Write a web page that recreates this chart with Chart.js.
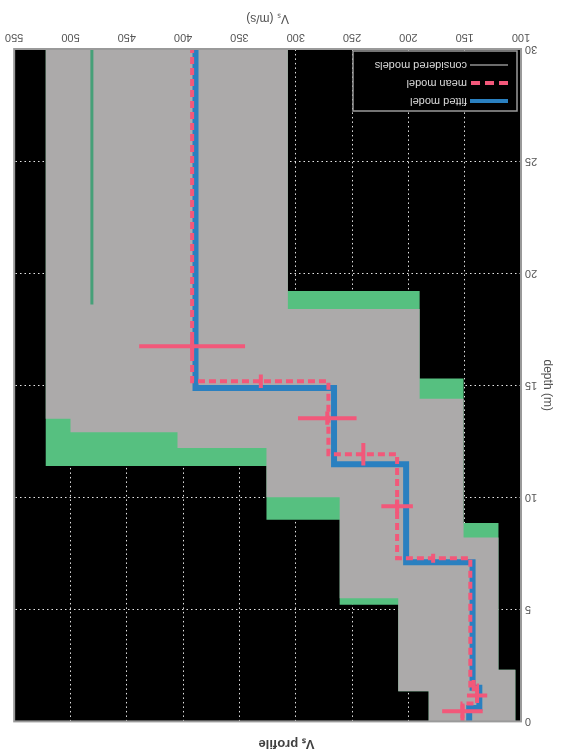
<!DOCTYPE html>
<html>
<head>
    <title>Vs profile</title>
    <style>
        body {
            margin: 0;
            padding: 0;
            background-color: #ffffff;
        }

        #wrap {
            width: 563px;
            height: 754px;
            transform: rotate(180deg);
        }

        canvas {
            display: block;
        }
    </style>
</head>
<body>
    <div id="wrap">
        <canvas id="chart" width="563" height="754"></canvas>
    </div>

    <script src="https://cdn.jsdelivr.net/npm/chart.js"></script>
    <script>
        // axis ticks
        var vsTicks = [100, 150, 200, 250, 300, 350, 400, 450, 500, 550];
        var depthTicks = [0, 5, 10, 15, 20, 25, 30];

        // fitted model: layer boundaries (m) and Vs of each layer (m/s)
        var fitDepth = [0, 0.6, 1.5, 7.1, 11.47, 14.87, 30];
        var fitVs = [146, 137, 143, 202, 266, 389];

        // mean model
        var meanDepth = [0, 0.8, 1.6, 7.28, 11.92, 15.18, 30];
        var meanVs = [152, 139, 145, 210, 271, 392];

        // Vs standard deviation crosses
        var stdDepth = [0.45, 1.16, 9.6, 13.53, 16.74];
        var stdVs = [152, 139, 210, 272, 392];
        var stdVsErr = [18, 9, 14, 26, 47];
        var stdDepthErr = [0.3, 0.3, 0.3, 0.3, 0.35];

        // interface depth error bars
        var ifVs = [142, 178, 240, 331];
        var ifDepth = [1.6, 7.28, 11.92, 15.18];
        var ifErr = [0.25, 0.2, 0.5, 0.3];

        // envelope of considered models (outer, green edge)
        var envLowDepth = [0, 2.3, 8.85, 15.3, 19.2, 30];
        var envLowVs = [105, 120, 151, 190, 307];
        var envHighDepth = [0, 1.35, 5.2, 9.0, 11.4, 30];
        var envHighVs = [182, 209, 261, 326, 522];

        // grey core of considered models
        var coreLowDepth = [0, 2.3, 8.2, 14.4, 18.4, 30];
        var coreLowVs = [105, 120, 151, 190, 307];
        var coreHighDepth = [0, 1.35, 5.5, 10.0, 12.2, 12.9, 13.5, 30];
        var coreHighVs = [182, 209, 261, 326, 405, 500, 522];

        // one green considered model visible in the half space
        var greenDepth = [18.6, 30];
        var greenVs = [481, 481];

        var BLUE = '#2a80c0';
        var RED = '#f2587a';
        var GREY = 'rgb(172,170,170)';
        var GREEN = 'rgb(86,192,128)';

        function steps(depths, vs) {
            var pts = [];
            for (var i = 0; i < vs.length; i++) {
                pts.push({x: vs[i], y: depths[i]});
                pts.push({x: vs[i], y: depths[i + 1]});
            }
            return pts;
        }

        function envelope(loD, loV, hiD, hiV) {
            return steps(loD, loV).concat(steps(hiD, hiV).reverse());
        }

        var gap = {x: null, y: null};
        var barPts = [];
        for (var i = 0; i < stdDepth.length; i++) {
            barPts.push({x: stdVs[i] - stdVsErr[i], y: stdDepth[i]}, {x: stdVs[i] + stdVsErr[i], y: stdDepth[i]}, gap);
            barPts.push({x: stdVs[i], y: stdDepth[i] - stdDepthErr[i]}, {x: stdVs[i], y: stdDepth[i] + stdDepthErr[i]}, gap);
        }
        for (var j = 0; j < ifDepth.length; j++) {
            barPts.push({x: ifVs[j], y: ifDepth[j] - ifErr[j]}, {x: ifVs[j], y: ifDepth[j] + ifErr[j]}, gap);
        }

        var greenPts = greenDepth.map(function(d, k) { return {x: greenVs[k], y: d}; });

        // black plot area + frame + legend box
        var plotBg = {
            id: 'plotBg',
            beforeDraw: function(chart) {
                var a = chart.chartArea, ctx = chart.ctx;
                ctx.save();
                ctx.fillStyle = '#000000';
                ctx.fillRect(a.left, a.top, a.right - a.left, a.bottom - a.top);
                ctx.restore();
            },
            afterDraw: function(chart) {
                var a = chart.chartArea, ctx = chart.ctx;
                ctx.save();
                ctx.strokeStyle = '#9a9a9a';
                ctx.lineWidth = 2;
                ctx.strokeRect(a.left, a.top, a.right - a.left, a.bottom - a.top);

                // legend
                var x0 = a.left + 4, y0 = a.bottom - 62, w = 164, h = 60;
                ctx.fillStyle = '#000000';
                ctx.fillRect(x0, y0, w, h);
                ctx.lineWidth = 1.5;
                ctx.strokeStyle = '#9a9a9a';
                ctx.strokeRect(x0, y0, w, h);

                var items = [
                    {text: 'fitted model', color: BLUE, width: 4, dash: []},
                    {text: 'mean model', color: RED, width: 4, dash: [9, 5]},
                    {text: 'considered models', color: '#d8d8d8', width: 1, dash: []}
                ];
                ctx.font = '11px "Liberation Sans", Arial, sans-serif';
                ctx.textBaseline = 'middle';
                ctx.textAlign = 'left';
                items.forEach(function(it, k) {
                    var yy = y0 + 10 + k * 18;
                    ctx.beginPath();
                    ctx.setLineDash(it.dash);
                    ctx.strokeStyle = it.color;
                    ctx.lineWidth = it.width;
                    ctx.moveTo(x0 + 9, yy);
                    ctx.lineTo(x0 + 47, yy);
                    ctx.stroke();
                    ctx.setLineDash([]);
                    ctx.fillStyle = '#dcdcdc';
                    ctx.fillText(it.text, x0 + 50, yy);
                });
                ctx.restore();
            }
        };

        var ctx = document.getElementById('chart').getContext('2d');
        var chart = new Chart(ctx, {
            type: 'line',
            data: {
                datasets: [{
                    label: 'error bars',
                    data: barPts,
                    borderColor: RED,
                    borderWidth: 4,
                    pointRadius: 0,
                    order: 0
                }, {
                    label: 'mean model',
                    data: steps(meanDepth, meanVs),
                    borderColor: RED,
                    borderWidth: 4,
                    borderDash: [7, 4],
                    pointRadius: 0,
                    order: 1
                }, {
                    label: 'fitted model',
                    data: steps(fitDepth, fitVs),
                    borderColor: BLUE,
                    borderWidth: 6,
                    pointRadius: 0,
                    order: 2
                }, {
                    label: 'considered model',
                    data: greenPts,
                    borderColor: 'rgb(70,160,120)',
                    borderWidth: 3,
                    pointRadius: 0,
                    order: 3
                }, {
                    label: 'considered models core',
                    data: envelope(coreLowDepth, coreLowVs, coreHighDepth, coreHighVs),
                    borderWidth: 0,
                    borderColor: 'rgba(0,0,0,0)',
                    backgroundColor: GREY,
                    fill: 'shape',
                    pointRadius: 0,
                    order: 4
                }, {
                    label: 'considered models edge',
                    data: envelope(envLowDepth, envLowVs, envHighDepth, envHighVs),
                    borderWidth: 0,
                    borderColor: 'rgba(0,0,0,0)',
                    backgroundColor: GREEN,
                    fill: 'shape',
                    pointRadius: 0,
                    order: 5
                }]
            },
            options: {
                responsive: false,
                animation: false,
                indexAxis: 'y',
                layout: {
                    padding: {left: 0, right: 10, top: 0, bottom: 0}
                },
                plugins: {
                    legend: {display: false},
                    tooltip: {enabled: false},
                    title: {
                        display: true,
                        text: 'Vₛ profile',
                        color: '#404040',
                        font: {family: '"Liberation Sans", Arial, sans-serif', size: 13, weight: 'bold'},
                        padding: {top: 3, bottom: 14}
                    }
                },
                scales: {
                    x: {
                        type: 'linear',
                        position: 'bottom',
                        min: vsTicks[0],
                        max: vsTicks[vsTicks.length - 1],
                        afterBuildTicks: function(scale) {
                            scale.ticks = vsTicks.map(function(v) { return {value: v}; });
                        },
                        afterFit: function(scale) { scale.height = 49; },
                        grid: {color: '#e6e6e6', lineWidth: 1, drawTicks: false},
                        border: {display: false, dash: [1.5, 3]},
                        ticks: {
                            color: '#555555',
                            padding: 5,
                            maxRotation: 0,
                            autoSkip: false,
                            font: {family: '"Liberation Sans", Arial, sans-serif', size: 11}
                        },
                        title: {
                            display: true,
                            text: 'Vₛ (m/s)',
                            color: '#505050',
                            font: {family: '"Liberation Sans", Arial, sans-serif', size: 12},
                            padding: {top: 0, bottom: 11}
                        }
                    },
                    y: {
                        type: 'linear',
                        position: 'left',
                        reverse: true,
                        min: depthTicks[0],
                        max: depthTicks[depthTicks.length - 1],
                        afterBuildTicks: function(scale) {
                            scale.ticks = depthTicks.map(function(v) { return {value: v}; });
                        },
                        afterFit: function(scale) { scale.width = 42; },
                        grid: {color: '#e6e6e6', lineWidth: 1, drawTicks: false},
                        border: {display: false, dash: [1.5, 3]},
                        ticks: {
                            color: '#555555',
                            padding: 4,
                            autoSkip: false,
                            font: {family: '"Liberation Sans", Arial, sans-serif', size: 11}
                        },
                        title: {
                            display: true,
                            text: 'depth (m)',
                            color: '#505050',
                            font: {family: '"Liberation Sans", Arial, sans-serif', size: 12},
                            padding: {top: 8, bottom: 0}
                        }
                    }
                }
            },
            plugins: [plotBg]
        });
    </script>
</body>
</html>
